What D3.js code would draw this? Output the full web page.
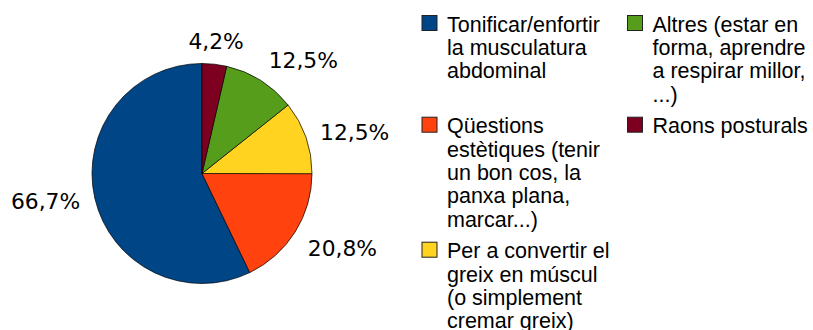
<!DOCTYPE html>
<html>
<head>
<meta charset="utf-8">
<script src="https://cdn.jsdelivr.net/npm/d3@7"></script>
<style>
  body { margin: 0; background: #fff; }
</style>
</head>
<body>
<script>
// categories in legend order (line breaks as in the legend)
const categories = [
  "Tonificar/enfortir\nla musculatura\nabdominal",
  "Qüestions\nestètiques (tenir\nun bon cos, la\npanxa plana,\nmarcar...)",
  "Per a convertir el\ngreix en múscul\n(o simplement\ncremar greix)",
  "Altres (estar en\nforma, aprendre\na respirar millor,\n...)",
  "Raons posturals"
]
const values = [66.7, 20.8, 12.5, 12.5, 4.2]
const labels = ["66,7%", "20,8%", "12,5%", "12,5%", "4,2%"]
const colors = ["#004586", "#ff420e", "#ffd320", "#579d1c", "#7e0021"]

const m = { width: 813, height: 330 }

const svg = d3.select("body").append("svg")
    .attr("width", m.width)
    .attr("height", m.height)

// pie
const cx = 202, cy = 173.5, r = 110

const pie = d3.pie()
    .sort(null)
    .startAngle(0)
    .endAngle(-2 * Math.PI) // drawn counterclockwise from the top
const arcs = pie(values)

const arc = d3.arc().innerRadius(0).outerRadius(r)

const g = svg.append("g").attr("transform", `translate(${cx},${cy})`)

g.selectAll("path")
    .data(arcs)
    .enter()
    .append("path")
        .attr("d", arc)
        .attr("fill", (d, i) => colors[i])
        .attr("stroke", "#000")
        .attr("stroke-width", 0.7)
        .attr("stroke-linejoin", "round")

// percentage labels just outside the pie
const labelR = r + 15
const capH = 15.8
g.selectAll(".pct")
    .data(arcs)
    .enter()
    .append("text")
        .attr("class", "pct")
        .attr("font-family", "DejaVu Sans")
        .attr("font-size", "21.8px")
        .attr("fill", "#000")
        .each(function(d, i) {
            const a = (d.startAngle + d.endAngle) / 2
            const s = Math.sin(a), c = Math.cos(a)
            const x = labelR * s, y = -labelR * c
            let anchor = "middle"
            if (s > 0.3) anchor = "start"
            if (s < -0.3) anchor = "end"
            let by = y + capH / 2
            if (c > 0.5) by = y
            if (c < -0.5) by = y + capH
            d3.select(this)
                .attr("x", x)
                .attr("y", by)
                .attr("text-anchor", anchor)
                .text(labels[i])
        })

// legend, two columns filled top to bottom
const lineH = 23.3, rowGap = 8.5, sq = 16
const colX = [421.5, 627]
const rows = 3
const lines = categories.map(c => c.split("\n"))

const rowTop = [31.7]
for (let rIdx = 1; rIdx < rows; rIdx++) {
    let n = 0
    lines.forEach((l, i) => { if (i % rows === rIdx - 1) n = Math.max(n, l.length) })
    rowTop.push(rowTop[rIdx - 1] + n * lineH + rowGap)
}

const legend = svg.append("g")
const items = legend.selectAll(".item")
    .data(categories)
    .enter()
    .append("g")
        .attr("transform", (d, i) => `translate(${colX[Math.floor(i / rows)]},${rowTop[i % rows]})`)

items.append("rect")
    .attr("x", 0.5)
    .attr("y", -16.2)
    .attr("width", sq - 1)
    .attr("height", sq - 1)
    .attr("fill", (d, i) => colors[i])
    .attr("stroke", "#222")
    .attr("stroke-width", 1)

items.append("text")
    .attr("x", 25.5)
    .attr("font-family", "Liberation Sans")
    .attr("font-size", "21.5px")
    .attr("fill", "#000")
    .selectAll("tspan")
    .data(d => d.split("\n"))
    .enter()
    .append("tspan")
        .attr("x", 25.5)
        .attr("y", (d, j) => j * lineH)
        .text(d => d)
</script>
</body>
</html>
